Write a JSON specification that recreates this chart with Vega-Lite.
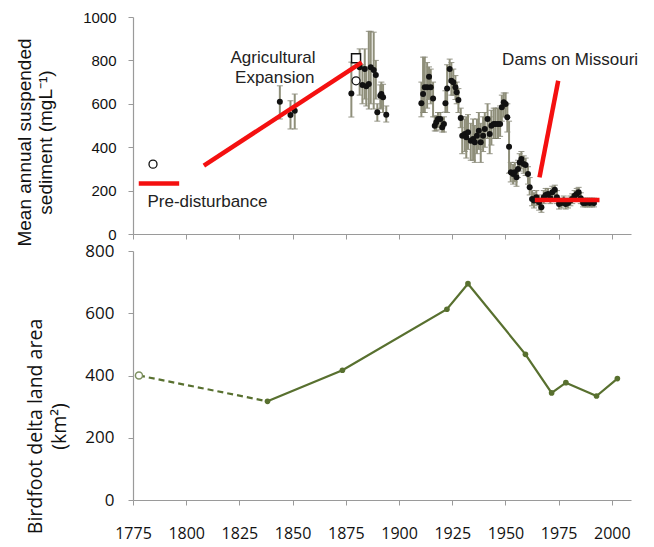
{
  "$schema": "https://vega.github.io/schema/vega-lite/v6.json",
  "background": "white",
  "padding": {"left": 15, "top": 10, "right": 5, "bottom": 30},
  "spacing": 17,
  "bounds": "flush",
  "config": {
    "view": {"stroke": null},
    "axis": {"grid": false, "domainColor": "#9a9a9a", "tickColor": "#9a9a9a", "tickSize": 5, "domainWidth": 1.2, "labelFlush": false, "labelOverlap": false}
  },
  "datasets": {
    "sed": [
      {"year": 1844.0, "value": 610, "lo": 530, "hi": 683},
      {"year": 1849.0, "value": 548, "lo": 484, "hi": 614},
      {"year": 1851.0, "value": 568, "lo": 484, "hi": 645},
      {"year": 1877.6, "value": 648, "lo": 539, "hi": 792},
      {"year": 1881.5, "value": 768, "lo": 640, "hi": 853},
      {"year": 1882.8, "value": 687, "lo": 600, "hi": 780},
      {"year": 1883.9, "value": 760, "lo": 622, "hi": 853},
      {"year": 1884.6, "value": 681, "lo": 590, "hi": 770},
      {"year": 1885.8, "value": 691, "lo": 576, "hi": 934},
      {"year": 1886.7, "value": 768, "lo": 600, "hi": 934},
      {"year": 1888.1, "value": 756, "lo": 576, "hi": 930},
      {"year": 1889.1, "value": 733, "lo": 622, "hi": 800},
      {"year": 1889.8, "value": 561, "lo": 520, "hi": 600},
      {"year": 1891.2, "value": 637, "lo": 576, "hi": 687},
      {"year": 1891.7, "value": 645, "lo": 580, "hi": 700},
      {"year": 1892.5, "value": 630, "lo": 560, "hi": 690},
      {"year": 1894.0, "value": 550, "lo": 516, "hi": 590},
      {"year": 1910.5, "value": 602, "lo": 540, "hi": 700},
      {"year": 1911.3, "value": 645, "lo": 560, "hi": 815},
      {"year": 1912.1, "value": 676, "lo": 560, "hi": 815},
      {"year": 1913.2, "value": 676, "lo": 580, "hi": 790},
      {"year": 1914.1, "value": 725, "lo": 620, "hi": 770},
      {"year": 1914.9, "value": 676, "lo": 600, "hi": 760},
      {"year": 1916.0, "value": 625, "lo": 540, "hi": 700},
      {"year": 1916.8, "value": 499, "lo": 475, "hi": 540},
      {"year": 1917.5, "value": 515, "lo": 475, "hi": 545},
      {"year": 1918.3, "value": 530, "lo": 490, "hi": 560},
      {"year": 1919.4, "value": 530, "lo": 480, "hi": 560},
      {"year": 1920.3, "value": 492, "lo": 470, "hi": 520},
      {"year": 1921.1, "value": 507, "lo": 470, "hi": 540},
      {"year": 1921.8, "value": 602, "lo": 562, "hi": 660},
      {"year": 1922.6, "value": 671, "lo": 560, "hi": 780},
      {"year": 1923.8, "value": 760, "lo": 700, "hi": 806},
      {"year": 1924.6, "value": 706, "lo": 640, "hi": 790},
      {"year": 1925.5, "value": 699, "lo": 640, "hi": 760},
      {"year": 1926.5, "value": 676, "lo": 620, "hi": 730},
      {"year": 1927.1, "value": 653, "lo": 600, "hi": 700},
      {"year": 1927.9, "value": 618, "lo": 560, "hi": 670},
      {"year": 1929.0, "value": 535, "lo": 490, "hi": 580},
      {"year": 1929.7, "value": 453, "lo": 370, "hi": 540},
      {"year": 1930.9, "value": 461, "lo": 380, "hi": 530},
      {"year": 1931.6, "value": 446, "lo": 350, "hi": 540},
      {"year": 1932.4, "value": 469, "lo": 390, "hi": 550},
      {"year": 1933.7, "value": 430, "lo": 340, "hi": 510},
      {"year": 1934.8, "value": 438, "lo": 340, "hi": 530},
      {"year": 1935.6, "value": 423, "lo": 330, "hi": 500},
      {"year": 1936.6, "value": 453, "lo": 370, "hi": 530},
      {"year": 1937.5, "value": 476, "lo": 390, "hi": 560},
      {"year": 1938.4, "value": 423, "lo": 330, "hi": 510},
      {"year": 1939.5, "value": 453, "lo": 380, "hi": 540},
      {"year": 1940.3, "value": 484, "lo": 400, "hi": 560},
      {"year": 1941.6, "value": 530, "lo": 440, "hi": 600},
      {"year": 1942.6, "value": 461, "lo": 370, "hi": 540},
      {"year": 1943.4, "value": 499, "lo": 410, "hi": 570},
      {"year": 1944.5, "value": 507, "lo": 440, "hi": 580},
      {"year": 1945.4, "value": 507, "lo": 440, "hi": 580},
      {"year": 1946.5, "value": 507, "lo": 440, "hi": 580},
      {"year": 1947.5, "value": 507, "lo": 450, "hi": 590},
      {"year": 1948.3, "value": 584, "lo": 520, "hi": 640},
      {"year": 1949.2, "value": 607, "lo": 540, "hi": 650},
      {"year": 1950.1, "value": 599, "lo": 540, "hi": 650},
      {"year": 1950.9, "value": 538, "lo": 470, "hi": 600},
      {"year": 1951.7, "value": 402, "lo": 280, "hi": 520},
      {"year": 1952.5, "value": 284, "lo": 240, "hi": 330},
      {"year": 1953.6, "value": 276, "lo": 230, "hi": 320},
      {"year": 1954.4, "value": 284, "lo": 240, "hi": 330},
      {"year": 1955.2, "value": 261, "lo": 220, "hi": 300},
      {"year": 1955.9, "value": 300, "lo": 260, "hi": 340},
      {"year": 1956.7, "value": 330, "lo": 290, "hi": 370},
      {"year": 1957.5, "value": 346, "lo": 300, "hi": 380},
      {"year": 1958.6, "value": 323, "lo": 280, "hi": 360},
      {"year": 1959.5, "value": 318, "lo": 270, "hi": 350},
      {"year": 1960.6, "value": 276, "lo": 230, "hi": 310},
      {"year": 1961.4, "value": 215, "lo": 180, "hi": 260},
      {"year": 1962.5, "value": 161, "lo": 130, "hi": 200},
      {"year": 1963.4, "value": 154, "lo": 120, "hi": 190},
      {"year": 1964.5, "value": 169, "lo": 130, "hi": 200},
      {"year": 1965.8, "value": 146, "lo": 110, "hi": 180},
      {"year": 1966.9, "value": 123, "lo": 100, "hi": 150},
      {"year": 1968.0, "value": 169, "lo": 140, "hi": 200},
      {"year": 1968.9, "value": 180, "lo": 150, "hi": 210},
      {"year": 1970.0, "value": 184, "lo": 150, "hi": 210},
      {"year": 1971.1, "value": 165, "lo": 140, "hi": 190},
      {"year": 1972.0, "value": 192, "lo": 160, "hi": 220},
      {"year": 1973.2, "value": 204, "lo": 170, "hi": 225},
      {"year": 1974.2, "value": 169, "lo": 140, "hi": 200},
      {"year": 1975.2, "value": 138, "lo": 115, "hi": 160},
      {"year": 1976.3, "value": 143, "lo": 120, "hi": 165},
      {"year": 1977.4, "value": 154, "lo": 130, "hi": 175},
      {"year": 1978.3, "value": 138, "lo": 115, "hi": 160},
      {"year": 1979.4, "value": 143, "lo": 120, "hi": 165},
      {"year": 1980.5, "value": 154, "lo": 130, "hi": 175},
      {"year": 1981.4, "value": 161, "lo": 140, "hi": 185},
      {"year": 1982.5, "value": 176, "lo": 150, "hi": 200},
      {"year": 1983.5, "value": 184, "lo": 155, "hi": 210},
      {"year": 1984.4, "value": 192, "lo": 165, "hi": 215},
      {"year": 1985.4, "value": 165, "lo": 140, "hi": 190},
      {"year": 1986.5, "value": 143, "lo": 125, "hi": 165},
      {"year": 1987.6, "value": 143, "lo": 125, "hi": 165},
      {"year": 1988.5, "value": 146, "lo": 125, "hi": 165},
      {"year": 1989.6, "value": 143, "lo": 125, "hi": 165},
      {"year": 1990.7, "value": 146, "lo": 125, "hi": 165},
      {"year": 1991.6, "value": 143, "lo": 125, "hi": 165}
    ],
    "openCircle": [
      {"year": 1784.4, "value": 322},
      {"year": 1879.8, "value": 706}
    ],
    "openSquare": [
      {"year": 1879.8, "value": 810}
    ],
    "trend": [
      {"x1": 1777.7, "y1": 233, "x2": 1796.7, "y2": 233},
      {"x1": 1808.3, "y1": 315, "x2": 1882.5, "y2": 791},
      {"x1": 1966.0, "y1": 261, "x2": 1974.8, "y2": 706},
      {"x1": 1963.8, "y1": 157, "x2": 1994.2, "y2": 157}
    ],
    "notes": [
      {"year": 1840.8, "value": 811, "label": "Agricultural"},
      {"year": 1841.6, "value": 719, "label": "Expansion"},
      {"year": 1810.0, "value": 147, "label": "Pre-disturbance"},
      {"year": 1980.4, "value": 802, "label": "Dams on Missouri"}
    ],
    "areaEarly": [
      {"year": 1777.8, "area": 400},
      {"year": 1838.2, "area": 317}
    ],
    "area": [
      {"year": 1838.2, "area": 317},
      {"year": 1873.4, "area": 417},
      {"year": 1922.5, "area": 613},
      {"year": 1932.4, "area": 695},
      {"year": 1959.4, "area": 468},
      {"year": 1971.7, "area": 344},
      {"year": 1978.4, "area": 377},
      {"year": 1992.8, "area": 334},
      {"year": 2002.6, "area": 390}
    ],
    "areaOpen": [
      {"year": 1777.8, "area": 400}
    ]
  },
  "vconcat": [
    {
      "width": 498,
      "height": 217,
      "layer": [
        {
          "data": {"name": "sed"},
          "mark": {"type": "errorbar", "ticks": {"size": 6, "color": "#6b6b58", "strokeWidth": 1.2}, "rule": {"color": "#8f8f7a", "strokeWidth": 2}},
          "encoding": {
            "x": {"field": "year", "type": "quantitative", "scale": {"domain": [1775, 2009], "nice": false, "zero": false},
              "axis": {"values": [1775, 1800, 1825, 1850, 1875, 1900, 1925, 1950, 1975, 2000], "labels": false, "title": null}},
            "y": {"field": "lo", "type": "quantitative", "scale": {"domain": [0, 1000], "nice": false},
              "axis": {"values": [0, 200, 400, 600, 800, 1000], "format": "d", "title": ["Mean annual suspended", "sediment (mgL⁻¹)"],
                "titleFont": "Liberation Sans", "titleFontSize": 19, "titleFontWeight": "normal", "titleColor": "#111", "titleLineHeight": 21,
                "titleX": -99, "titleY": 125, "titleAlign": "center", "titleBaseline": "bottom", "titleAngle": 270,
                "labelFont": "Liberation Sans", "labelFontSize": 15, "labelColor": "#111", "labelPadding": 12}},
            "y2": {"field": "hi"}
          }
        },
        {
          "data": {"name": "sed"},
          "mark": {"type": "point", "filled": true, "shape": "circle", "size": 36, "color": "#111", "opacity": 1},
          "encoding": {
            "x": {"field": "year", "type": "quantitative"},
            "y": {"field": "value", "type": "quantitative"}
          }
        },
        {
          "data": {"name": "openCircle"},
          "mark": {"type": "point", "shape": "circle", "size": 64, "stroke": "#111", "strokeWidth": 1.3, "fill": "white", "opacity": 1},
          "encoding": {
            "x": {"field": "year", "type": "quantitative"},
            "y": {"field": "value", "type": "quantitative"}
          }
        },
        {
          "data": {"name": "openSquare"},
          "mark": {"type": "point", "shape": "square", "size": 81, "stroke": "#111", "strokeWidth": 1.5, "fill": "white", "opacity": 1},
          "encoding": {
            "x": {"field": "year", "type": "quantitative"},
            "y": {"field": "value", "type": "quantitative"}
          }
        },
        {
          "data": {"name": "trend"},
          "mark": {"type": "rule", "color": "#f41010", "strokeWidth": 4.5},
          "encoding": {
            "x": {"field": "x1", "type": "quantitative"},
            "y": {"field": "y1", "type": "quantitative"},
            "x2": {"field": "x2"},
            "y2": {"field": "y2"}
          }
        },
        {
          "data": {"name": "notes"},
          "mark": {"type": "text", "font": "Liberation Sans", "fontSize": 17, "color": "#222", "align": "center", "baseline": "middle"},
          "encoding": {
            "x": {"field": "year", "type": "quantitative"},
            "y": {"field": "value", "type": "quantitative"},
            "text": {"field": "label"}
          }
        }
      ]
    },
    {
      "width": 498,
      "height": 249,
      "layer": [
        {
          "data": {"name": "areaEarly"},
          "mark": {"type": "line", "color": "#58702f", "strokeWidth": 2.2, "strokeDash": [6, 4]},
          "encoding": {
            "x": {"field": "year", "type": "quantitative", "scale": {"domain": [1775, 2009], "nice": false, "zero": false},
              "axis": {"values": [1775, 1800, 1825, 1850, 1875, 1900, 1925, 1950, 1975, 2000], "format": "d", "title": null,
                "labelFont": "Open Sans", "labelFontSize": 16, "labelColor": "#111", "labelPadding": 20}},
            "y": {"field": "area", "type": "quantitative", "scale": {"domain": [0, 800], "nice": false},
              "axis": {"values": [0, 200, 400, 600, 800], "format": "d", "title": ["Birdfoot delta land area", "(km²)"],
                "titleFont": "Open Sans", "titleFontSize": 19.5, "titleFontWeight": "normal", "titleColor": "#111", "titleLineHeight": 24,
                "titleX": -88, "titleY": 175, "titleAlign": "center", "titleBaseline": "bottom", "titleAngle": 270,
                "labelFont": "Open Sans", "labelFontSize": 17, "labelColor": "#111", "labelPadding": 14}}
          }
        },
        {
          "data": {"name": "area"},
          "mark": {"type": "line", "color": "#58702f", "strokeWidth": 2.2},
          "encoding": {
            "x": {"field": "year", "type": "quantitative"},
            "y": {"field": "area", "type": "quantitative"}
          }
        },
        {
          "data": {"name": "area"},
          "mark": {"type": "point", "filled": true, "shape": "circle", "size": 32, "color": "#58702f", "opacity": 1},
          "encoding": {
            "x": {"field": "year", "type": "quantitative"},
            "y": {"field": "area", "type": "quantitative"}
          }
        },
        {
          "data": {"name": "areaOpen"},
          "mark": {"type": "point", "shape": "circle", "size": 50, "stroke": "#7d9060", "strokeWidth": 1.5, "fill": "white", "opacity": 1},
          "encoding": {
            "x": {"field": "year", "type": "quantitative"},
            "y": {"field": "area", "type": "quantitative"}
          }
        }
      ]
    }
  ]
}
